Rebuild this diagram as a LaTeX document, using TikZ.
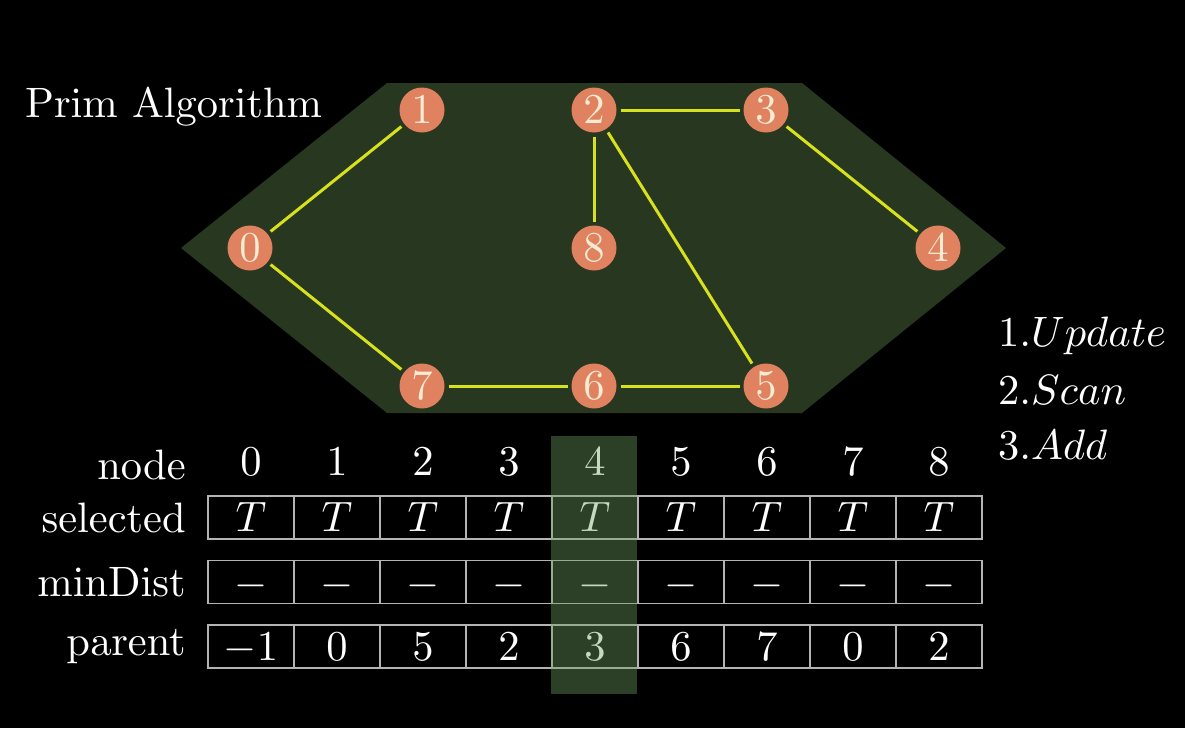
\documentclass[tikz,border=0pt]{standalone}
\usepackage{amsmath}
\usepackage{tikz}
\DeclareFontFamily{OT1}{cmrten}{}
\DeclareFontShape{OT1}{cmrten}{m}{n}{<->cmr10}{}
\DeclareFontFamily{OML}{cmmten}{\skewchar\font127}
\DeclareFontShape{OML}{cmmten}{m}{it}{<->cmmi10}{}
\DeclareFontFamily{OMS}{cmsyten}{\skewchar\font48}
\DeclareFontShape{OMS}{cmsyten}{m}{n}{<->cmsy10}{}
\DeclareSymbolFont{operators}{OT1}{cmrten}{m}{n}
\DeclareSymbolFont{letters}{OML}{cmmten}{m}{it}
\DeclareSymbolFont{symbols}{OMS}{cmsyten}{m}{n}
\def\cellw{86}
\def\cellh{43}
\def\bigfont{\fontencoding{OT1}\fontfamily{cmrten}\fontsize{42.5}{48}\selectfont}
\definecolor{hexgreen}{HTML}{28371F}
\definecolor{vertexfill}{HTML}{E0825F}
\definecolor{vertextext}{HTML}{F4EBD3}
\definecolor{edgeyellow}{HTML}{D8E21C}
\definecolor{gridgray}{HTML}{B4B4B4}
\definecolor{markgreen}{HTML}{6EA064}

\begin{document}
\begin{tikzpicture}[x=1pt, y=-1pt,
  txt/.style={text=white, font=\bigfont, inner sep=0pt},
  vertex/.style={circle, fill=vertexfill, minimum size=45pt, inner sep=0pt, outer sep=4pt, text=vertextext, font=\bigfont},
  edge/.style={edgeyellow, line width=3pt},
  cell/.style={draw=gridgray, line width=1.2pt, minimum width=\cellw pt, minimum height=\cellh pt, inner sep=0pt, text height=28pt, text depth=0pt, text=white, font=\bigfont}]
\fill[black] (0,0) rectangle (1185,728);
\fill[hexgreen] (181,248) -- (387,83) -- (802,83) -- (1006,248) -- (802,413) -- (387,413) -- cycle;

\node[txt, anchor=base west] (title) at (25,117) {Prim Algorithm};

\node[vertex] (v0) at (250,248) {0};
\node[vertex] (v1) at (422,110) {1};
\node[vertex] (v2) at (594,110) {2};
\node[vertex] (v3) at (766,110) {3};
\node[vertex] (v4) at (938,248) {4};
\node[vertex] (v5) at (766,386) {5};
\node[vertex] (v6) at (594,386) {6};
\node[vertex] (v7) at (422,386) {7};
\node[vertex] (v8) at (594,248) {8};
\foreach \a/\b in {0/1, 0/7, 2/3, 2/8, 2/5, 3/4, 7/6, 6/5}
  \draw[edge] (v\a) -- (v\b);

\node[txt, anchor=base west] (step1) at (998,346) {$1.Update$};
\node[txt, anchor=base west] (step2) at (998,404) {$2.Scan$};
\node[txt, anchor=base west] (step3) at (998,459) {$3.Add$};

\node[txt, anchor=base east] (lnode) at (186,479) {node};
\node[txt, anchor=base east] (lsel) at (186,532) {selected};
\node[txt, anchor=base east] (ldist) at (186,596) {minDist};
\node[txt, anchor=base east] (lpar) at (186,655) {parent};

\foreach \p [count=\i from 0] in {-1,0,5,2,3,6,7,0,2} {
  \node[txt, anchor=base] (head\i) at (251+\i*\cellw,475) {\i};
  \node[cell] (sel\i) at (251+\i*\cellw,517.5) {$T$};
  \node[cell] (dist\i) at (251+\i*\cellw,582) {$-$};
  \node[cell] (par\i) at (251+\i*\cellw,646.5) {$\p$};
}

\fill[markgreen, opacity=0.4] (551,436) rectangle (637,694);
\end{tikzpicture}
\end{document}
